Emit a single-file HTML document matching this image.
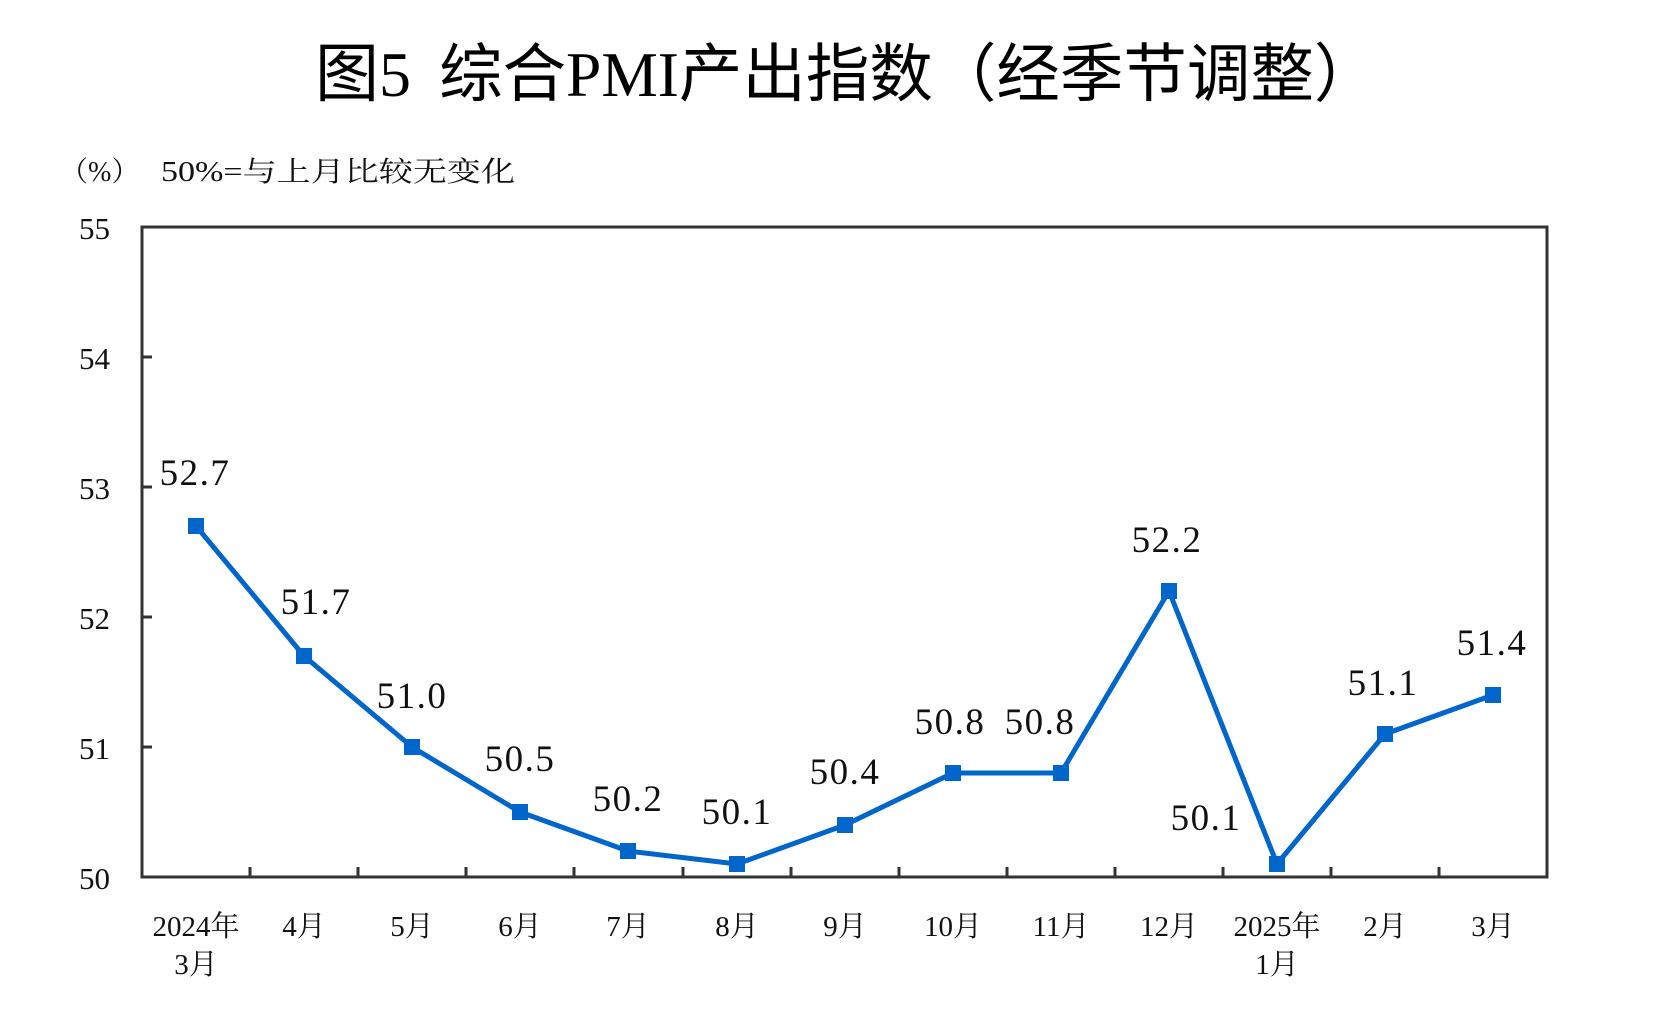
<!DOCTYPE html>
<html><head><meta charset="utf-8"><style>
html,body{margin:0;padding:0;background:#fff;}
svg{display:block;}
.s{font-family:"Liberation Serif","Noto Serif CJK SC",serif;fill:#111;}
</style></head><body>
<svg width="1660" height="1036" viewBox="0 0 1660 1036" xmlns="http://www.w3.org/2000/svg">
<g style="font-family:'Liberation Serif','Noto Sans CJK SC',sans-serif" font-size="64" fill="#000">
<text x="315" y="96">图5</text>
<text x="439" y="96" font-size="63.5">综合PMI产出指数（经季节调整）</text>
</g>
<text class="s" x="60" y="181" font-size="28">（%）</text>
<text class="s" x="161" y="181" font-size="28" textLength="354" lengthAdjust="spacingAndGlyphs">50%=与上月比较无变化</text>
<g stroke="#333" stroke-width="3" fill="none">
<rect x="142" y="227" width="1405" height="650"/>
<path d="M142 357h10M142 487h10M142 617h10M142 747h10"/>
<path d="M250 877v-10M358 877v-10M466 877v-10M574 877v-10M683 877v-10M791 877v-10M899 877v-10M1007 877v-10M1115 877v-10M1223 877v-10M1331 877v-10M1439 877v-10"/>
</g>
<g class="s" font-size="31" text-anchor="end">
<text x="110" y="239">55</text><text x="110" y="369">54</text><text x="110" y="499">53</text>
<text x="110" y="629">52</text><text x="110" y="759">51</text><text x="110" y="889">50</text>
</g>
<g class="s" font-size="29" text-anchor="middle">
<text x="196" y="936">2024年</text><text x="196" y="974">3月</text>
<text x="304" y="936">4月</text><text x="412" y="936">5月</text><text x="520" y="936">6月</text>
<text x="628" y="936">7月</text><text x="737" y="936">8月</text><text x="845" y="936">9月</text>
<text x="953" y="936">10月</text><text x="1061" y="936">11月</text><text x="1169" y="936">12月</text>
<text x="1277" y="936">2025年</text><text x="1277" y="974">1月</text>
<text x="1385" y="936">2月</text><text x="1493" y="936">3月</text>
</g>
<polyline fill="none" stroke="#0066cc" stroke-width="5" stroke-linejoin="round"
points="196,526 304,656 412,747 520,812 628,851 737,864 845,825 953,773 1061,773 1169,591 1277,864 1385,734 1493,695"/>
<g fill="#0066cc">
<rect x="188" y="518" width="16" height="16"/><rect x="296" y="648" width="16" height="16"/>
<rect x="404" y="739" width="16" height="16"/><rect x="512" y="804" width="16" height="16"/>
<rect x="620" y="843" width="16" height="16"/><rect x="729" y="856" width="16" height="16"/>
<rect x="837" y="817" width="16" height="16"/><rect x="945" y="765" width="16" height="16"/>
<rect x="1053" y="765" width="16" height="16"/><rect x="1161" y="583" width="16" height="16"/>
<rect x="1269" y="856" width="16" height="16"/><rect x="1377" y="726" width="16" height="16"/>
<rect x="1485" y="687" width="16" height="16"/>
</g>
<g class="s" font-size="37" text-anchor="middle" letter-spacing="1.5">
<text x="195" y="485">52.7</text><text x="316" y="614">51.7</text><text x="412" y="708">51.0</text>
<text x="520" y="771">50.5</text><text x="628" y="811">50.2</text><text x="737" y="824">50.1</text>
<text x="845" y="784">50.4</text><text x="950" y="734">50.8</text><text x="1040" y="734">50.8</text>
<text x="1167" y="552">52.2</text><text x="1206" y="830">50.1</text><text x="1383" y="695">51.1</text>
<text x="1492" y="655">51.4</text>
</g>
</svg>
</body></html>
